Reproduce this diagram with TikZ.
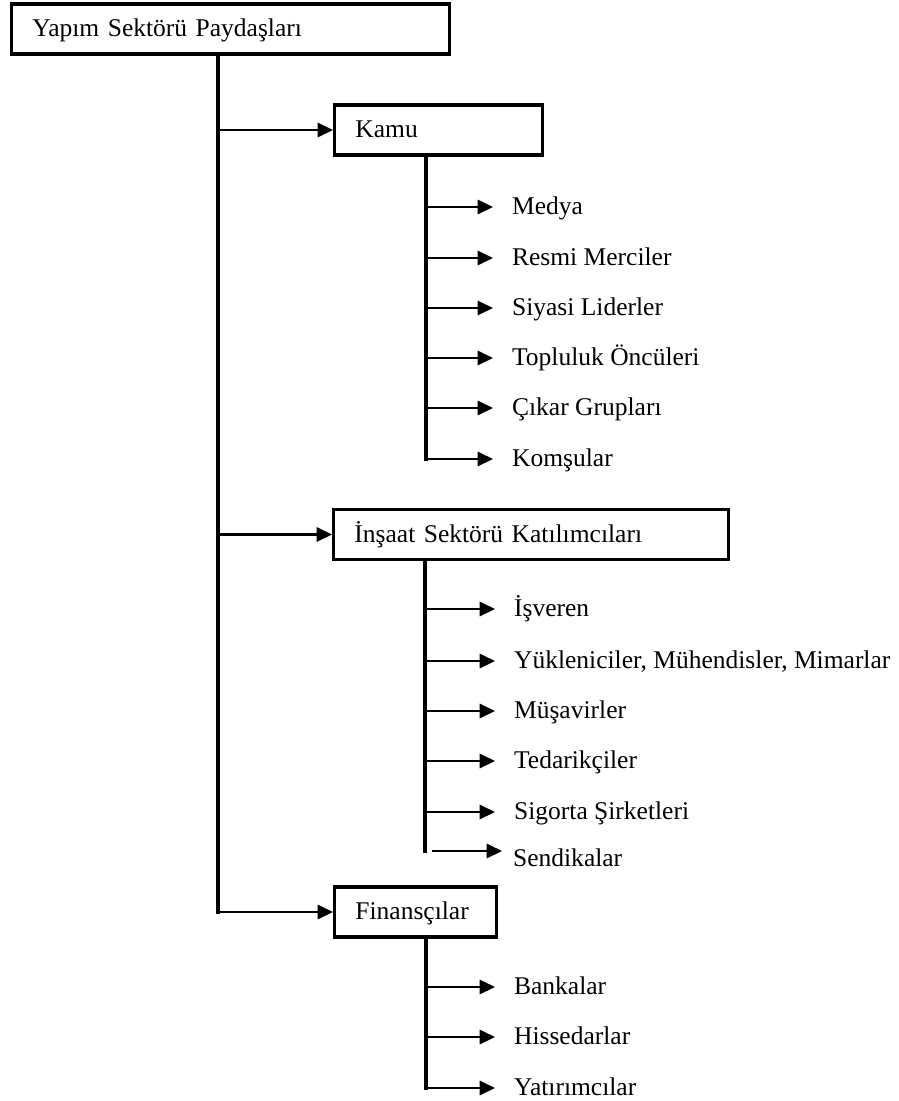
\documentclass[tikz,border=0pt]{standalone}
\usepackage{fontspec}
\setmainfont{Liberation Serif}
\usetikzlibrary{arrows.meta}

\begin{document}
\begin{tikzpicture}[x=0.392pt, y=-0.392pt,
        >={Triangle[length=6pt,width=5.6pt]},
        box/.style={draw, line width=1.2pt, anchor=west, minimum height=19.6pt,
            inner xsep=8.2pt, text width=#1, align=left, text height=0.7em, text depth=0.1em},
        leaf/.style={anchor=west, inner xsep=0pt, outer xsep=7.5pt, text height=0.7em, text depth=0.1em},
        trunk/.style={line width=1.2pt, line cap=rect},
        arr/.style={->, line width=0.8pt}]
        \useasboundingbox (0,0) rectangle (899,1101);

        % --- 1. Trunk positions ---
        \coordinate (trunk) at (218,0);
        \coordinate (sub) at (426,0);
        \coordinate (subB) at (425,0);

        % --- 2. Boxes ---
        \node[box=155.3pt] (root) at (10,29) {Yapım Sektörü Paydaşları};
        \node[box=65.1pt] (kamu) at (333,130) {Kamu};
        \node[box=138.4pt] (insaat) at (332,534.5) {İnşaat Sektörü Katılımcıları};
        \node[box=47.1pt] (fin) at (333,912) {Finansçılar};

        % --- 3. Kamu ---
        \node[leaf] (medya) at (493,207) {Medya};
        \node[leaf] (resmi) at (493,258) {Resmi Merciler};
        \node[leaf] (siyasi) at (493,308) {Siyasi Liderler};
        \node[leaf] (topluluk) at (493,358) {Topluluk Öncüleri};
        \node[leaf] (cikar) at (493,408) {Çıkar Grupları};
        \node[leaf] (komsu) at (493,459) {Komşular};

        % --- 4. Insaat sektoru ---
        \node[leaf] (isveren) at (495,609) {İşveren};
        \node[leaf] (yuklenici) at (495,661) {Yükleniciler, Mühendisler, Mimarlar};
        \node[leaf] (musavir) at (495,711) {Müşavirler};
        \node[leaf] (tedarik) at (495,761) {Tedarikçiler};
        \node[leaf] (sigorta) at (495,812) {Sigorta Şirketleri};
        \node[leaf] (sendika) at (494,859) {Sendikalar};
        \coordinate (senFrom) at (432,851);
        \coordinate (senTip) at (502,851);

        % --- 5. Finans ---
        \node[leaf] (banka) at (495,987) {Bankalar};
        \node[leaf] (hisse) at (495,1037) {Hissedarlar};
        \node[leaf] (yatirim) at (495,1088) {Yatırımcılar};

        % --- 6. Connectors ---
        \draw[trunk] (root.south -| trunk) -- (fin.west -| trunk);
        \draw[arr] (kamu.west -| trunk) -- (kamu.west);
        \draw[arr] (insaat.west -| trunk) -- (insaat.west);
        \draw[arr] (fin.west -| trunk) -- (fin.west);

        \draw[trunk] (kamu.south -| sub) -- (komsu.west -| sub);
        \foreach \n in {medya,resmi,siyasi,topluluk,cikar,komsu}
            \draw[arr] (\n.west -| sub) -- (\n.west);

        \draw[trunk] (insaat.south -| subB) -- (senFrom -| subB);
        \foreach \n in {isveren,yuklenici,musavir,tedarik,sigorta}
            \draw[arr] (\n.west -| subB) -- (\n.west);
        \draw[arr] (senFrom) -- (senTip);

        \draw[trunk] (fin.south -| sub) -- (yatirim.west -| sub);
        \foreach \n in {banka,hisse,yatirim}
            \draw[arr] (\n.west -| sub) -- (\n.west);
    \end{tikzpicture}
\end{document}
